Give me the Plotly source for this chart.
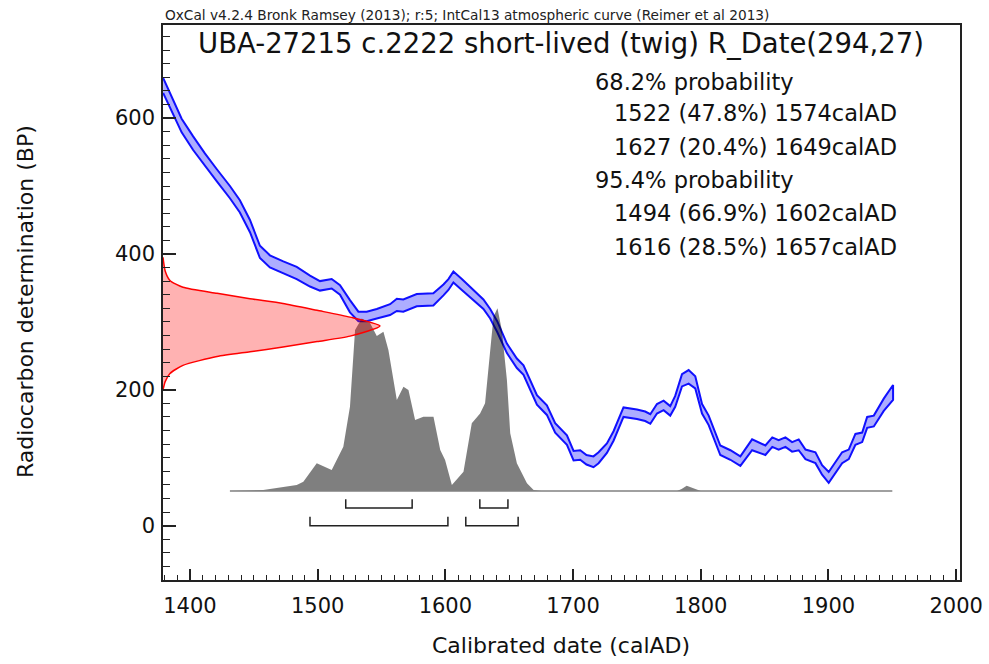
import plotly.graph_objects as go

# ---------------- data ----------------
# IntCal13 calibration curve: calendar year AD, 14C age BP, 1-sigma
curve_year = [1379, 1393.5, 1402.5, 1411.7, 1420.9, 1431.3, 1439.1, 1447, 1454.8, 1462.6,
              1473.1, 1483.6, 1494, 1501.8, 1511, 1517.5, 1525.3, 1531.9, 1538.4, 1546.3,
              1556.7, 1562, 1567.1, 1577.6, 1590.6, 1598.5, 1602.4, 1606.3, 1612.9, 1619.4,
              1629.8, 1635.1, 1640.6, 1648.2, 1656, 1661.2, 1666.4, 1671.7, 1679.5, 1686,
              1695.2, 1700.4, 1705.6, 1710.5, 1716, 1720, 1726.5, 1731.7, 1739.5, 1750,
              1756.5, 1760.5, 1765.7, 1770.9, 1776.1, 1780, 1785.3, 1790.5, 1795.7, 1801,
              1806.2, 1815.3, 1823.2, 1831, 1840.2, 1846.7, 1850.6, 1856, 1861, 1866.3,
              1871.5, 1876.7, 1882, 1889.8, 1895, 1900.2, 1910.7, 1915.9, 1921.1, 1926.4,
              1930.3, 1935.5, 1943.3, 1950.6]
curve_bp = [648, 589, 563, 539, 516, 491, 470, 441, 403, 389,
            380, 372, 360, 353, 356, 347, 323, 308, 308, 312,
            318, 325, 324, 332, 333, 347, 355, 366, 355, 344,
            326, 312, 293, 261, 239, 229, 208, 185, 170, 144,
            126, 103, 104, 97, 94, 100, 114, 132, 167, 164,
            161, 157, 172, 177, 169, 183, 214, 219, 211, 172,
            155, 111, 104, 95, 119, 114, 111, 123, 119, 123,
            116, 119, 105, 100, 82, 71, 100, 105, 127, 130,
            152, 154, 178, 196]
curve_sigma = [11, 10, 10, 9, 9, 9, 9, 9, 9, 9,
               9, 9, 8, 7, 7, 7, 9, 7, 7, 7,
               8, 9, 9, 9, 9, 8, 8, 8, 8, 7,
               7, 7, 8, 7, 7, 7, 7, 7, 7, 7,
               7, 7, 7, 7, 8, 8, 7, 7, 7, 7,
               7, 7, 7, 7, 7, 8, 9, 10, 9, 7,
               7, 7, 7, 7, 8, 7, 7, 7, 7, 7,
               7, 8, 7, 8, 7, 8, 8, 7, 8, 7,
               8, 8, 9, 11]

# Radiocarbon measurement R_Date(294,27): likelihood profile (relative)
red_bp = [395, 375, 361, 351, 342, 334, 327, 317, 307, 294, 279, 271, 263, 256, 249, 236, 224, 212, 200]
red_prob = [0, 0.01, 0.032, 0.092, 0.249, 0.401, 0.553, 0.71, 0.862, 1.0,
            0.862, 0.71, 0.553, 0.401, 0.249, 0.092, 0.032, 0.01, 0]

# Calibrated date distribution (relative probability)
grey_year = [1431.3, 1457.4, 1483.6, 1488.8, 1499.3, 1511.0, 1520.1, 1525.3, 1529.3, 1534.5,
             1541.0, 1546.3, 1551.5, 1555.4, 1562.0, 1567.2, 1571.1, 1576.3, 1582.8, 1590.7,
             1596.0, 1599.8, 1605.1, 1614.2, 1620.7, 1627.2, 1631.1, 1635.1, 1637.7, 1640.8,
             1644.2, 1648.2, 1650.8, 1656.0, 1663.9, 1669.1, 1675.0,
             1781.4, 1785.0, 1789.0, 1794.0, 1800.0, 1950.0]
grey_prob = [0, 0.005, 0.033, 0.051, 0.152, 0.115, 0.242, 0.461, 0.881, 0.945,
             0.92, 0.848, 0.872, 0.772, 0.498, 0.571, 0.553, 0.389, 0.407, 0.407,
             0.224, 0.17, 0.033, 0.106, 0.371, 0.425, 0.48, 0.79, 0.954, 1.0,
             0.881, 0.608, 0.316, 0.152, 0.042, 0.005, 0,
             0, 0.011, 0.029, 0.016, 0, 0]

# Highest probability ranges
range68 = [(1522, 1574), (1627, 1649)]
range95 = [(1494, 1602), (1616, 1657)]

header = "OxCal v4.2.4 Bronk Ramsey (2013); r:5; IntCal13 atmospheric curve (Reimer et al 2013)"
title = "UBA-27215 c.2222 short-lived (twig) R_Date(294,27)"
prob_lines = ["68.2% probability", "1522 (47.8%) 1574calAD", "1627 (20.4%) 1649calAD",
              "95.4% probability", "1494 (66.9%) 1602calAD", "1616 (28.5%) 1657calAD"]
x_ticks = [1400, 1500, 1600, 1700, 1800, 1900, 2000]
y_ticks = [0, 200, 400, 600]

# ---------------- layout constants ----------------
W, H = 989, 664
L, R, T, B = 163, 960, 25, 580
FONT = "DejaVu Sans"
AXC = "#222222"

def px(xp):
    return (xp - L) / (R - L)

def py(yp):
    return (B - yp) / (B - T)

fig = go.Figure()

# calibration curve band
upper = [b + s for b, s in zip(curve_bp, curve_sigma)]
lower = [b - s for b, s in zip(curve_bp, curve_sigma)]
fig.add_trace(go.Scatter(
    x=curve_year + curve_year[::-1], y=upper + lower[::-1],
    mode="lines", fill="toself", fillcolor="rgba(0,0,255,0.32)",
    line=dict(color="#1010ff", width=2), hoverinfo="skip"))

# range brackets (68.2% upper row, 95.4% lower row)
def bracket(ranges, level, tick):
    xs, ys = [], []
    for a, b in ranges:
        xs += [a, a, b, b, None]
        ys += [level + tick, level, level, level + tick, None]
    return xs, ys

bx, by = bracket(range68, 26, 13)
fig.add_trace(go.Scatter(x=bx, y=by, mode="lines", line=dict(color=AXC, width=1.5), hoverinfo="skip"))
bx, by = bracket(range95, 0, 13)
fig.add_trace(go.Scatter(x=bx, y=by, mode="lines", line=dict(color=AXC, width=1.5), hoverinfo="skip"))

# measurement (red) on overlay x axis
fig.add_trace(go.Scatter(
    x=red_prob, y=red_bp, xaxis="x2", yaxis="y",
    mode="lines", fill="toself", fillcolor="rgba(255,0,0,0.3)",
    line=dict(color="#ff0000", width=1.5, shape="spline", smoothing=0.6), hoverinfo="skip"))

# calibrated distribution (grey) on overlay y axis
fig.add_trace(go.Scatter(
    x=grey_year, y=grey_prob, xaxis="x", yaxis="y2",
    mode="lines", fill="tozeroy", fillcolor="rgba(0,0,0,0.5)",
    line=dict(color="rgba(0,0,0,0)", width=0), hoverinfo="skip"))
fig.add_trace(go.Scatter(
    x=[grey_year[0], grey_year[-1]], y=[0, 0], xaxis="x", yaxis="y2",
    mode="lines", line=dict(color="#808080", width=1.5), hoverinfo="skip"))

axis_common = dict(showgrid=False, zeroline=False, showline=True, mirror=True,
                   automargin=False,
                   linecolor=AXC, linewidth=1.5, ticks="inside", tickcolor=AXC,
                   tickwidth=1.5, tickfont=dict(family=FONT, size=21, color="#111"))

fig.update_layout(
    width=W, height=H,
    margin=dict(l=L, r=W - R, t=T, b=H - B, pad=0, autoexpand=False),
    paper_bgcolor="white", plot_bgcolor="white",
    showlegend=False,
    xaxis=dict(range=[1378.9, 2003], tickvals=x_ticks, ticklen=11,
               minor=dict(dtick=10, ticklen=5, ticks="inside", tickcolor=AXC, tickwidth=1),
               ticklabelstandoff=6, **axis_common),
    yaxis=dict(range=[-80, 737], tickvals=y_ticks, ticklen=13,
               minor=dict(dtick=20, ticklen=7, ticks="inside", tickcolor=AXC, tickwidth=1),
               ticklabelstandoff=2, **axis_common),
    xaxis2=dict(overlaying="x", range=[0, 3.673], visible=False),
    yaxis2=dict(overlaying="y", range=[-0.487, 2.551], visible=False),
)

ann = []
ann.append(dict(text=header, x=px(163), y=py(15), xref="paper", yref="paper",
                xanchor="left", yanchor="middle", showarrow=False,
                font=dict(family=FONT, size=13.7, color="#222")))
ann.append(dict(text=title, x=px(561), y=py(43), xref="paper", yref="paper",
                xanchor="center", yanchor="middle", showarrow=False,
                font=dict(family=FONT, size=27.5, color="#111")))
prob_y = [81.7, 113.3, 146.7, 180, 213.3, 246.7]
prob_x = [593, 612, 612, 593, 612, 612]
for t, xx, yy in zip(prob_lines, prob_x, prob_y):
    ann.append(dict(text=t, x=px(xx), y=py(yy), xref="paper", yref="paper",
                    xanchor="left", yanchor="middle", showarrow=False,
                    font=dict(family=FONT, size=22.5, color="#111")))
ann.append(dict(text="Calibrated date (calAD)", x=px(561), y=py(645), xref="paper", yref="paper",
                xanchor="center", yanchor="middle", showarrow=False,
                font=dict(family=FONT, size=22, color="#111")))
ann.append(dict(text="Radiocarbon determination (BP)", x=px(25), y=py(302), xref="paper", yref="paper",
                xanchor="center", yanchor="middle", showarrow=False, textangle=-90,
                font=dict(family=FONT, size=22, color="#111")))
fig.update_layout(annotations=ann)

fig.write_html("out.html", config={"displayModeBar": False},
               post_script="document.body.style.margin='0px';")
